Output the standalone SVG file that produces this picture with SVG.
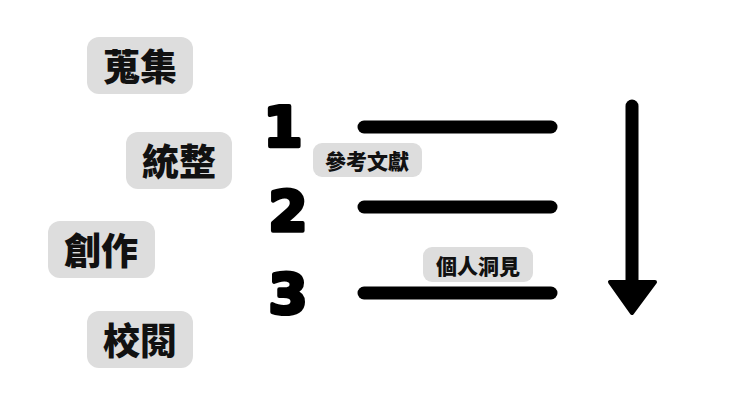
<svg xmlns="http://www.w3.org/2000/svg" width="740" height="416" viewBox="0 0 740 416">
<style>
.b{fill:#dddddd}
.t{font-family:"Noto Sans CJK TC",sans-serif;font-weight:900;fill:#111;text-anchor:middle;dominant-baseline:central}
.n{font-family:"DejaVu Sans",sans-serif;font-weight:bold;font-size:56px;fill:#000;text-anchor:middle;stroke:#000;stroke-width:4;stroke-linejoin:round}
.l{stroke:#000;stroke-width:13;stroke-linecap:round}
</style>
<rect width="740" height="416" fill="#fff"/>
<g id="n1"><rect class="b" x="87" y="37" width="106" height="57" rx="12"/><text class="t" x="140" y="65" font-size="37">蒐集</text></g>
<g id="n2"><rect class="b" x="126" y="132" width="106" height="57" rx="12"/><text class="t" x="179" y="160" font-size="37">統整</text></g>
<g id="n3"><rect class="b" x="48" y="221" width="107" height="57" rx="12"/><text class="t" x="101" y="249" font-size="37">創作</text></g>
<g id="n4"><rect class="b" x="87" y="311" width="106" height="57" rx="12"/><text class="t" x="140" y="339" font-size="37">校閱</text></g>
<g id="nums"><text class="n" x="283" y="146">1</text><text class="n" x="288" y="230">2</text><text class="n" x="288" y="313">3</text></g>
<g id="c1"><rect class="b" x="313" y="143" width="109" height="34" rx="9"/><text class="t" x="367" y="160" font-size="21">參考文獻</text></g>
<g id="c2"><rect class="b" x="423" y="247" width="110" height="35" rx="9"/><text class="t" x="478" y="265" font-size="21">個人洞見</text></g>
<g id="connectors">
<line class="l" x1="364" y1="127" x2="551" y2="127"/>
<line class="l" x1="364" y1="207" x2="551" y2="207"/>
<line class="l" x1="364" y1="293" x2="551" y2="293"/>
<line class="l" x1="632" y1="106" x2="632" y2="288"/>
<polygon points="610,282 655,282 632,313" fill="#000" stroke="#000" stroke-width="4" stroke-linejoin="round"/>
</g>
</svg>
